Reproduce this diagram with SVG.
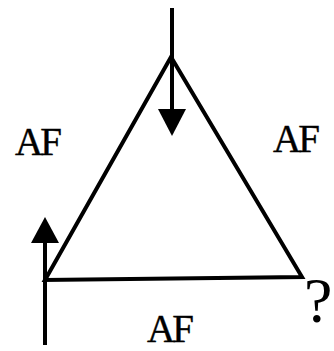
<svg xmlns="http://www.w3.org/2000/svg" width="334" height="351" viewBox="0 0 334 351">
<style>
.l{stroke:#000;stroke-width:4;fill:none}
.a{fill:#000}
.t{font-family:"Liberation Serif","Times New Roman",serif;font-size:39px;letter-spacing:-3px;fill:#000;stroke:#000;stroke-width:0.4}
</style>
<g id="triangle">
<path class="l" d="M45,280 L171,57 L302,277 Z" stroke-linejoin="miter"/>
</g>
<g id="connectors">
<path class="l" d="M172,8 L172,112"/>
<path class="a" d="M158,109 L186,109 L172,136 Z"/>
<path class="l" d="M45,345 L45,240"/>
<path class="a" d="M31,243 L59,243 L45,217 Z"/>
</g>
<g id="labels">
<text class="t" x="15" y="155">AF</text>
<text class="t" x="273" y="152">AF</text>
<text class="t" x="147" y="342">AF</text>
<text x="304" y="322" style="font-family:'Liberation Serif','Times New Roman',serif;font-size:64px;fill:#000">?</text>
</g>
</svg>
